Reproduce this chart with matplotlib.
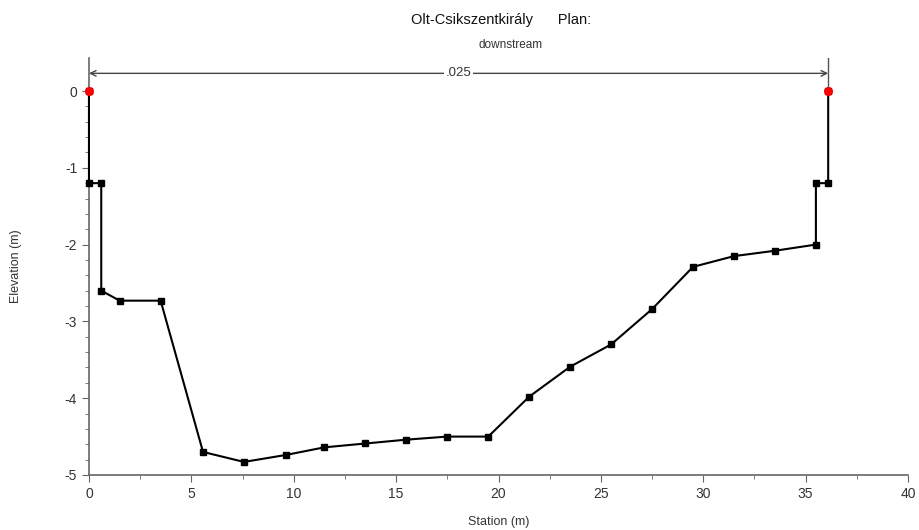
import matplotlib
matplotlib.use("Agg")
import matplotlib.pyplot as plt
from matplotlib.ticker import MultipleLocator, FixedLocator

station = [0.0, 0.0, 0.6, 0.6, 1.5, 3.5, 5.57, 7.57, 9.6, 11.5, 13.5, 15.5, 17.5, 19.5,
           21.5, 23.5, 25.5, 27.5, 29.5, 31.5, 33.5, 35.5, 35.5, 36.1, 36.1]
elevation = [0.0, -1.2, -1.2, -2.6, -2.73, -2.73, -4.70, -4.83, -4.74, -4.64, -4.59, -4.54,
             -4.50, -4.50, -3.98, -3.59, -3.30, -2.84, -2.29, -2.15, -2.08, -2.00, -1.2, -1.2, 0.0]
bank_station = [0.0, 36.1]
bank_elev = [0.0, 0.0]
n_label = ".025"
title = "Olt-Csikszentkirály      Plan:"
subtitle = "downstream"

plt.rcParams['font.family'] = ['Liberation Sans', 'DejaVu Sans']
plt.rcParams['axes.unicode_minus'] = False
fig = plt.figure(figsize=(9.2, 5.3), dpi=100)
ax = fig.add_axes([0.0967, 0.1038, 0.8903, 0.7868])

ax.plot(station, elevation, color='black', lw=1.5, marker='s', markersize=4.5, zorder=3, clip_on=False)
ax.plot(bank_station, bank_elev, linestyle='none', marker='o', color='red', markersize=5.5,
        zorder=4, clip_on=False)

ax.set_xlim(0, 40)
ax.set_ylim(-5, 0.43)

ax.plot([bank_station[1], bank_station[1]], [0, 0.43], color='#555555', lw=1, zorder=2)
ax.annotate('', xy=(bank_station[0], 0.23), xytext=(bank_station[1], 0.23),
            arrowprops=dict(arrowstyle='<->', color='#444444', lw=1, shrinkA=0, shrinkB=0))
ax.text((bank_station[0] + bank_station[1]) / 2, 0.23, n_label, ha='center', va='center',
        fontsize=9.5, color='#333333', bbox=dict(facecolor='white', edgecolor='none', pad=1))

for s in ['top', 'right']:
    ax.spines[s].set_visible(False)
for s in ['left', 'bottom']:
    ax.spines[s].set_color('#666666')
    ax.spines[s].set_linewidth(1.2)

ax.xaxis.set_major_locator(MultipleLocator(5))
ax.xaxis.set_minor_locator(MultipleLocator(2.5))
ax.set_yticks([0, -1, -2, -3, -4, -5])
ax.yaxis.set_minor_locator(FixedLocator([-5 + 0.2 * i for i in range(26)]))
ax.tick_params(which='major', length=5, color='#666666', labelsize=10, labelcolor='#333333')
ax.tick_params(which='minor', length=3, color='#666666')

ax.set_xlabel('Station (m)', fontsize=9, color='#333333', labelpad=11)
ax.set_ylabel('Elevation (m)', fontsize=9, color='#333333', labelpad=31)

fig.text(0.545, 0.962, title, ha='center', va='center', fontsize=10.5, color='#111111')
fig.text(0.555, 0.915, subtitle, ha='center', va='center', fontsize=8.5, color='#333333')

fig.savefig('out.png', dpi=100)
